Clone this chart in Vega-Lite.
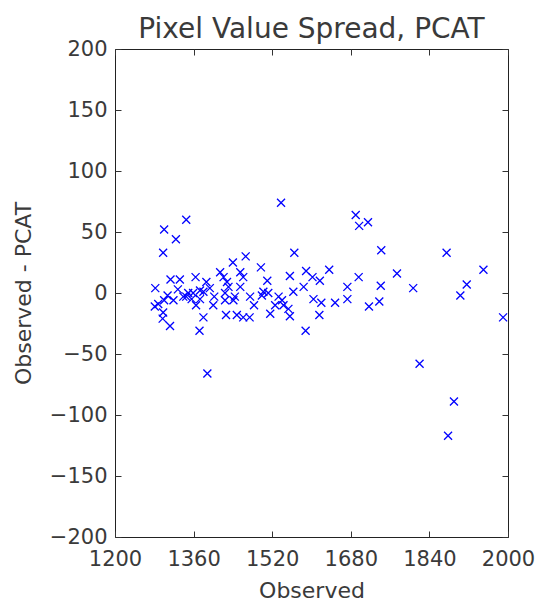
{
  "$schema": "https://vega.github.io/schema/vega-lite/v6.json",
  "autosize": "none",
  "padding": {"left": 115, "top": 49, "right": 33, "bottom": 64},
  "width": 393,
  "height": 488,
  "background": "white",
  "title": {
    "text": "Pixel Value Spread, PCAT",
    "font": "DejaVu Sans",
    "fontSize": 28,
    "fontWeight": "normal",
    "color": "#3a3a3a",
    "anchor": "middle",
    "offset": -6
  },
  "config": {
    "view": {"stroke": "#222", "strokeWidth": 1},
    "axis": {
      "grid": false,
      "domain": false,
      "tickColor": "#333",
      "tickSize": 6,
      "labelFont": "DejaVu Sans",
      "labelFontSize": 21,
      "labelColor": "#3a3a3a",
      "labelFlush": false,
      "labelOverlap": false,
      "format": "d",
      "titleFont": "DejaVu Sans",
      "titleFontSize": 22,
      "titleFontWeight": "normal",
      "titleColor": "#3a3a3a"
    }
  },
  "data": {
    "values": [
      {"observed": 1345, "residual": 60}, {"observed": 1300, "residual": 52}, {"observed": 1324, "residual": 44},
      {"observed": 1298, "residual": 33}, {"observed": 1538, "residual": 74}, {"observed": 1565, "residual": 33},
      {"observed": 1690, "residual": 64}, {"observed": 1697, "residual": 55}, {"observed": 1715, "residual": 58},
      {"observed": 1742, "residual": 35}, {"observed": 1875, "residual": 33}, {"observed": 1950, "residual": 19},
      {"observed": 1774, "residual": 16}, {"observed": 1807, "residual": 4}, {"observed": 1916, "residual": 7},
      {"observed": 1903, "residual": -2}, {"observed": 1990, "residual": -20}, {"observed": 1820, "residual": -58},
      {"observed": 1890, "residual": -89}, {"observed": 1878, "residual": -117}, {"observed": 1388, "residual": -66},
      {"observed": 1372, "residual": -31},
      {"observed": 1636, "residual": 19}, {"observed": 1696, "residual": 13}, {"observed": 1673, "residual": 5},
      {"observed": 1741, "residual": 6}, {"observed": 1620, "residual": -8}, {"observed": 1648, "residual": -8},
      {"observed": 1673, "residual": -5}, {"observed": 1717, "residual": -11}, {"observed": 1738, "residual": -7},
      {"observed": 1616, "residual": -18}, {"observed": 1617, "residual": 10},
      {"observed": 1466, "residual": 30}, {"observed": 1497, "residual": 21}, {"observed": 1440, "residual": 25},
      {"observed": 1455, "residual": 17}, {"observed": 1461, "residual": 13}, {"observed": 1510, "residual": 10},
      {"observed": 1556, "residual": 14}, {"observed": 1589, "residual": 18}, {"observed": 1602, "residual": 13},
      {"observed": 1584, "residual": 5}, {"observed": 1563, "residual": 1}, {"observed": 1475, "residual": -3},
      {"observed": 1483, "residual": -10}, {"observed": 1502, "residual": 1}, {"observed": 1533, "residual": -3},
      {"observed": 1540, "residual": -6}, {"observed": 1526, "residual": -10}, {"observed": 1553, "residual": -13},
      {"observed": 1516, "residual": -17}, {"observed": 1556, "residual": -19}, {"observed": 1604, "residual": -5},
      {"observed": 1461, "residual": -20}, {"observed": 1474, "residual": -20}, {"observed": 1441, "residual": -6},
      {"observed": 1588, "residual": -31},
      {"observed": 1282, "residual": 4}, {"observed": 1313, "residual": 11}, {"observed": 1332, "residual": 11},
      {"observed": 1364, "residual": 13}, {"observed": 1386, "residual": 9}, {"observed": 1414, "residual": 17},
      {"observed": 1428, "residual": 9}, {"observed": 1421, "residual": 13}, {"observed": 1300, "residual": -6},
      {"observed": 1319, "residual": -6}, {"observed": 1339, "residual": -3}, {"observed": 1356, "residual": -5},
      {"observed": 1349, "residual": 0}, {"observed": 1373, "residual": 2}, {"observed": 1393, "residual": 4},
      {"observed": 1281, "residual": -11}, {"observed": 1400, "residual": -10}, {"observed": 1402, "residual": -3},
      {"observed": 1431, "residual": 5}, {"observed": 1424, "residual": -6}, {"observed": 1444, "residual": -3},
      {"observed": 1298, "residual": -16}, {"observed": 1297, "residual": -21}, {"observed": 1312, "residual": -27},
      {"observed": 1380, "residual": -20}, {"observed": 1426, "residual": -18}, {"observed": 1448, "residual": -18},
      {"observed": 1288, "residual": -9}, {"observed": 1359, "residual": 0}, {"observed": 1380, "residual": 1},
      {"observed": 1373, "residual": -5}, {"observed": 1424, "residual": 0}, {"observed": 1455, "residual": 5},
      {"observed": 1499, "residual": -2}, {"observed": 1512, "residual": 0}, {"observed": 1543, "residual": -10},
      {"observed": 1345, "residual": -3}, {"observed": 1365, "residual": -10}, {"observed": 1307, "residual": -2},
      {"observed": 1328, "residual": 3}
    ]
  },
  "layer": [
    {
      "mark": {
        "type": "point",
        "shape": "M-1,-1L1,1M-1,1L1,-1",
        "filled": false,
        "stroke": "#0000ff",
        "strokeWidth": 1.3,
        "size": 64,
        "opacity": 1
      },
      "encoding": {
        "x": {
          "field": "observed",
          "type": "quantitative",
          "scale": {"domain": [1200, 2000], "nice": false, "zero": false},
          "axis": {"orient": "bottom", "ticks": false, "values": [1200, 1360, 1520, 1680, 1840, 2000], "labelPadding": 11, "title": "Observed", "titlePadding": 11}
        },
        "y": {
          "field": "residual",
          "type": "quantitative",
          "scale": {"domain": [-200, 200], "nice": false, "zero": false},
          "axis": {"orient": "left", "ticks": false, "values": [-200, -150, -100, -50, 0, 50, 100, 150, 200], "labelPadding": 8, "labelExpr": "replace(datum.label, '-', '−')", "title": "Observed - PCAT", "titlePadding": 14}
        }
      }
    },
    {
      "mark": {"type": "point", "opacity": 0},
      "encoding": {
        "x": {
          "field": "observed",
          "type": "quantitative",
          "scale": {"domain": [1200, 2000], "nice": false, "zero": false},
          "axis": {"orient": "top", "offset": -488, "values": [1200, 1360, 1520, 1680, 1840, 2000], "labels": false, "title": null}
        },
        "y": {
          "field": "residual",
          "type": "quantitative",
          "scale": {"domain": [-200, 200], "nice": false, "zero": false},
          "axis": {"orient": "right", "offset": -393, "values": [-200, -150, -100, -50, 0, 50, 100, 150, 200], "labels": false, "title": null}
        }
      }
    },
    {
      "mark": {"type": "point", "opacity": 0},
      "encoding": {
        "x": {
          "field": "observed",
          "type": "quantitative",
          "scale": {"domain": [1200, 2000], "nice": false, "zero": false},
          "axis": {"orient": "bottom", "offset": -488, "values": [1200, 1360, 1520, 1680, 1840, 2000], "labels": false, "title": null}
        },
        "y": {
          "field": "residual",
          "type": "quantitative",
          "scale": {"domain": [-200, 200], "nice": false, "zero": false},
          "axis": {"orient": "left", "offset": -393, "values": [-200, -150, -100, -50, 0, 50, 100, 150, 200], "labels": false, "title": null}
        }
      }
    }
  ],
  "resolve": {"axis": {"x": "independent", "y": "independent"}}
}
